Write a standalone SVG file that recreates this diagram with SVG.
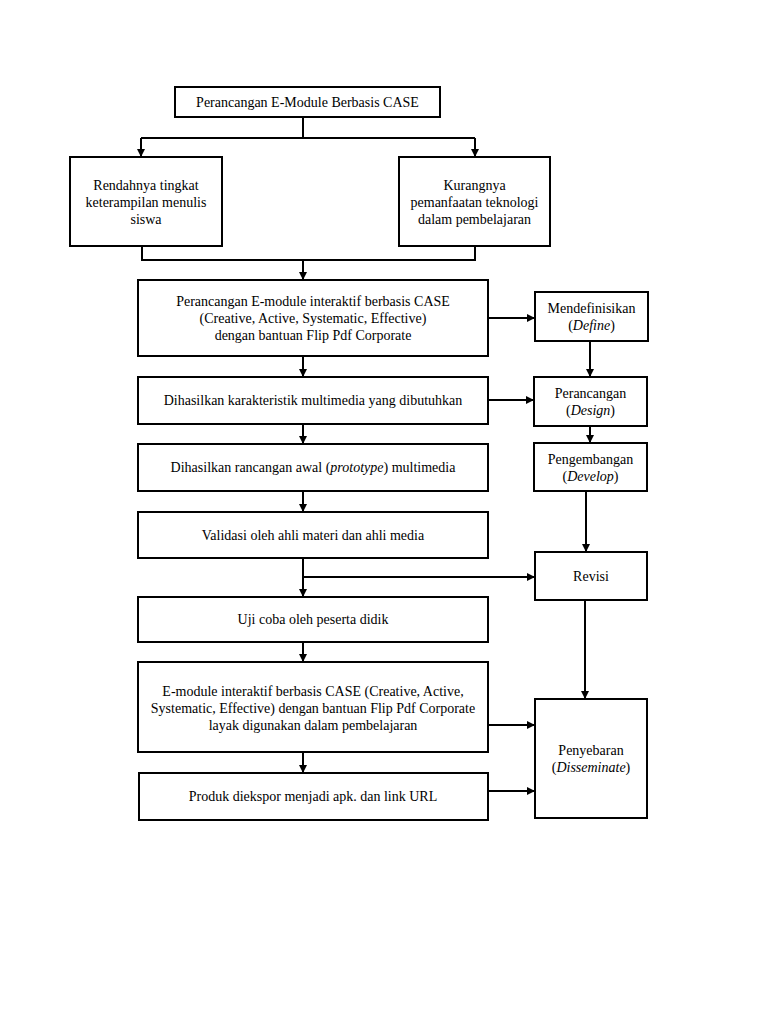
<svg xmlns="http://www.w3.org/2000/svg" width="768" height="1024" viewBox="0 0 768 1024">
<style>
.b{fill:#fff;stroke:#000;stroke-width:2}
.t{font-family:"Liberation Serif","Times New Roman",serif;font-size:14px;fill:#000;text-anchor:middle}
.c{fill:none;stroke:#000;stroke-width:2}
</style>
<defs>
<marker id="a" viewBox="0 0 10 10" refX="10" refY="5" markerWidth="4" markerHeight="4" orient="auto" markerUnits="strokeWidth">
<path d="M0,0L10,5L0,10z" fill="#000"/>
</marker>
</defs>
<rect width="768" height="1024" fill="#fff"/>
<g id="connectors">
<path class="c" d="M303,117V138"/>
<path class="c" d="M141,138H475"/>
<path class="c" d="M141,138V157" marker-end="url(#a)"/>
<path class="c" d="M475,138V157" marker-end="url(#a)"/>
<path class="c" d="M142,246V260H475V246"/>
<path class="c" d="M303,260V280" marker-end="url(#a)"/>
<path class="c" d="M303,356V377" marker-end="url(#a)"/>
<path class="c" d="M303,424V444" marker-end="url(#a)"/>
<path class="c" d="M303,491V512" marker-end="url(#a)"/>
<path class="c" d="M303,558V597" marker-end="url(#a)"/>
<path class="c" d="M303,577H535" marker-end="url(#a)"/>
<path class="c" d="M303,642V662" marker-end="url(#a)"/>
<path class="c" d="M303,752V773" marker-end="url(#a)"/>
<path class="c" d="M488,318H535" marker-end="url(#a)"/>
<path class="c" d="M488,400H534" marker-end="url(#a)"/>
<path class="c" d="M590,341V377" marker-end="url(#a)"/>
<path class="c" d="M590,426V443" marker-end="url(#a)"/>
<path class="c" d="M586,491V552" marker-end="url(#a)"/>
<path class="c" d="M585,600V699" marker-end="url(#a)"/>
<path class="c" d="M488,725H535" marker-end="url(#a)"/>
<path class="c" d="M488,791H535" marker-end="url(#a)"/>
</g>
<g id="n1"><rect class="b" x="175" y="87" width="265" height="30"/><text class="t" x="307.5" y="107">Perancangan E-Module Berbasis CASE</text></g>
<g id="n2"><rect class="b" x="70" y="157" width="152" height="89"/><text class="t" x="146" y="190">Rendahnya tingkat</text><text class="t" x="146" y="207">keterampilan menulis</text><text class="t" x="146" y="224">siswa</text></g>
<g id="n3"><rect class="b" x="399" y="157" width="151" height="89"/><text class="t" x="474.5" y="190">Kurangnya</text><text class="t" x="474.5" y="207">pemanfaatan teknologi</text><text class="t" x="474.5" y="224">dalam pembelajaran</text></g>
<g id="n4"><rect class="b" x="138" y="280" width="350" height="76"/><text class="t" x="313" y="306">Perancangan E-module interaktif berbasis CASE</text><text class="t" x="313" y="323">(Creative, Active, Systematic, Effective)</text><text class="t" x="313" y="340">dengan bantuan Flip Pdf Corporate</text></g>
<g id="n5"><rect class="b" x="138" y="377" width="350" height="47"/><text class="t" x="313" y="405">Dihasilkan karakteristik multimedia yang dibutuhkan</text></g>
<g id="n6"><rect class="b" x="138" y="444" width="350" height="47"/><text class="t" x="313" y="472">Dihasilkan rancangan awal (<tspan font-style="italic">prototype</tspan>) multimedia</text></g>
<g id="n7"><rect class="b" x="138" y="512" width="350" height="46"/><text class="t" x="313" y="540">Validasi oleh ahli materi dan ahli media</text></g>
<g id="n8"><rect class="b" x="138" y="597" width="350" height="45"/><text class="t" x="313" y="624">Uji coba oleh peserta didik</text></g>
<g id="n9"><rect class="b" x="138" y="662" width="350" height="90"/><text class="t" x="313" y="696">E-module interaktif berbasis CASE (Creative, Active,</text><text class="t" x="313" y="713">Systematic, Effective) dengan bantuan Flip Pdf Corporate</text><text class="t" x="313" y="730">layak digunakan dalam pembelajaran</text></g>
<g id="n10"><rect class="b" x="139" y="773" width="349" height="47"/><text class="t" x="313" y="801">Produk diekspor menjadi apk. dan link URL</text></g>
<g id="n11"><rect class="b" x="535" y="292" width="113" height="49"/><text class="t" x="591.5" y="313">Mendefinisikan</text><text class="t" x="591.5" y="330">(<tspan font-style="italic">Define</tspan>)</text></g>
<g id="n12"><rect class="b" x="534" y="377" width="113" height="49"/><text class="t" x="590.5" y="398">Perancangan</text><text class="t" x="590.5" y="415">(<tspan font-style="italic">Design</tspan>)</text></g>
<g id="n13"><rect class="b" x="534" y="443" width="113" height="48"/><text class="t" x="590.5" y="464">Pengembangan</text><text class="t" x="590.5" y="481">(<tspan font-style="italic">Develop</tspan>)</text></g>
<g id="n14"><rect class="b" x="535" y="552" width="112" height="48"/><text class="t" x="591" y="581">Revisi</text></g>
<g id="n15"><rect class="b" x="535" y="699" width="112" height="119"/><text class="t" x="591" y="755">Penyebaran</text><text class="t" x="591" y="772">(<tspan font-style="italic">Disseminate</tspan>)</text></g>
</svg>
